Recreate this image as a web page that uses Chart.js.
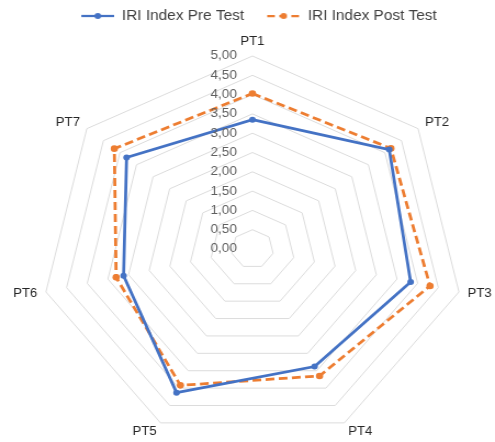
<!DOCTYPE html>
<html>
<head>
<meta charset="utf-8">
<script src="https://cdn.jsdelivr.net/npm/chart.js@4.4.1/dist/chart.umd.min.js"></script>
<style>
  html, body { margin: 0; padding: 0; background: #ffffff; overflow: hidden; }
</style>
</head>
<body>
<canvas id="c" width="451" height="442" style="width:495px;height:442px;display:block"></canvas>
<script>
// ---- data ----
const categories = ['PT1', 'PT2', 'PT3', 'PT4', 'PT5', 'PT6', 'PT7'];
const seriesNames = ['IRI Index Pre Test', 'IRI Index Post Test'];
const preTest = [3.35, 4.13, 3.83, 3.38, 4.13, 3.12, 3.80];
const postTest = [4.03, 4.18, 4.30, 3.65, 3.92, 3.30, 4.17];
const tickLabels = ['0,00', '0,50', '1,00', '1,50', '2,00', '2,50', '3,00', '3,50', '4,00', '4,50', '5,00'];

// ---- styles ----
const BLUE = '#4472C4';
const ORANGE = '#ED7D31';
const FONT = '"Liberation Sans", Arial, Helvetica, sans-serif';
const LEGEND_GAP = 23;

function legendMarker(color, dash) {
  const c = document.createElement('canvas');
  c.width = 42; c.height = 12;
  const g = c.getContext('2d');
  g.strokeStyle = color;
  g.lineWidth = 2.25;
  g.setLineDash(dash);
  g.beginPath(); g.moveTo(12, 6); g.lineTo(42, 6); g.stroke();
  g.setLineDash([]);
  g.fillStyle = color;
  g.beginPath(); g.arc(27, 6, 3, 0, Math.PI * 2); g.fill();
  return c;
}
const markers = [legendMarker(BLUE, []), legendMarker(ORANGE, [7, 4])];

// spacer box between legend and the radar area
const legendGap = {
  id: 'legendGap',
  beforeInit(chart) {
    Chart.layouts.addBox(chart, {
      position: 'top', weight: 100, fullSize: true, options: {},
      isHorizontal() { return true; },
      update(w) { this.width = w; this.height = LEGEND_GAP; },
      draw() {}
    });
  }
};

// value labels (including 0,00) and category labels
const axisText = {
  id: 'axisText',
  afterDraw(chart) {
    const s = chart.scales.r;
    const ctx = chart.ctx;
    ctx.save();
    ctx.font = '12.5px ' + FONT;
    ctx.fillStyle = '#606060';
    ctx.textAlign = 'right';
    ctx.textBaseline = 'middle';
    s.ticks.forEach((t, i) => {
      const d = s.getDistanceFromCenterForValue(t.value);
      ctx.fillText(tickLabels[i], s.xCenter - 14, s.yCenter - d);
    });
    ctx.font = '12px ' + FONT;
    ctx.fillStyle = '#262626';
    categories.forEach((lab, i) => {
      const a = s.getIndexAngle(i);
      const sn = Math.sin(a), cs = Math.cos(a);
      if (Math.abs(sn) < 0.01) {
        const p = s.getPointPosition(i, s.drawingArea + 8);
        ctx.textAlign = 'center';
        ctx.textBaseline = cs > 0 ? 'bottom' : 'top';
        ctx.fillText(lab, p.x, p.y);
      } else {
        const px = s.getPointPosition(i, s.drawingArea + 8).x;
        const py = s.getPointPosition(i, s.drawingArea + 10).y;
        ctx.textAlign = sn > 0 ? 'left' : 'right';
        ctx.textBaseline = 'middle';
        ctx.fillText(lab, px, py);
      }
    });
    ctx.restore();
  }
};

new Chart(document.getElementById('c'), {
  type: 'radar',
  data: {
    labels: categories,
    datasets: [
      {
        label: seriesNames[0], data: preTest,
        borderColor: BLUE, backgroundColor: BLUE, borderWidth: 2.75, fill: false,
        pointRadius: 3, pointBackgroundColor: BLUE, pointBorderColor: BLUE, pointBorderWidth: 0
      },
      {
        label: seriesNames[1], data: postTest,
        borderColor: ORANGE, backgroundColor: ORANGE, borderWidth: 2.75, borderDash: [8, 4], fill: false,
        pointRadius: 3.3, pointBackgroundColor: ORANGE, pointBorderColor: ORANGE, pointBorderWidth: 0
      }
    ]
  },
  options: {
    responsive: false,
    devicePixelRatio: 1,
    animation: false,
    layout: { padding: { left: 34, right: 25, top: 0, bottom: 0 } },
    plugins: {
      legend: {
        position: 'top',
        labels: {
          usePointStyle: true,
          pointStyleWidth: 42,
          padding: 9,
          color: '#404040',
          font: { family: FONT, size: 14 },
          generateLabels(chart) {
            const items = Chart.defaults.plugins.legend.labels.generateLabels(chart);
            items.forEach((it, i) => { it.pointStyle = markers[i]; });
            return items;
          }
        }
      },
      tooltip: { enabled: false }
    },
    scales: {
      r: {
        min: 0, max: 5,
        ticks: { stepSize: 0.5, display: false, callback: (v, i) => tickLabels[i] },
        grid: { color: '#dcdcdc', lineWidth: 1 },
        angleLines: { display: false },
        pointLabels: { display: false }
      }
    }
  },
  plugins: [legendGap, axisText]
});
</script>
</body>
</html>
